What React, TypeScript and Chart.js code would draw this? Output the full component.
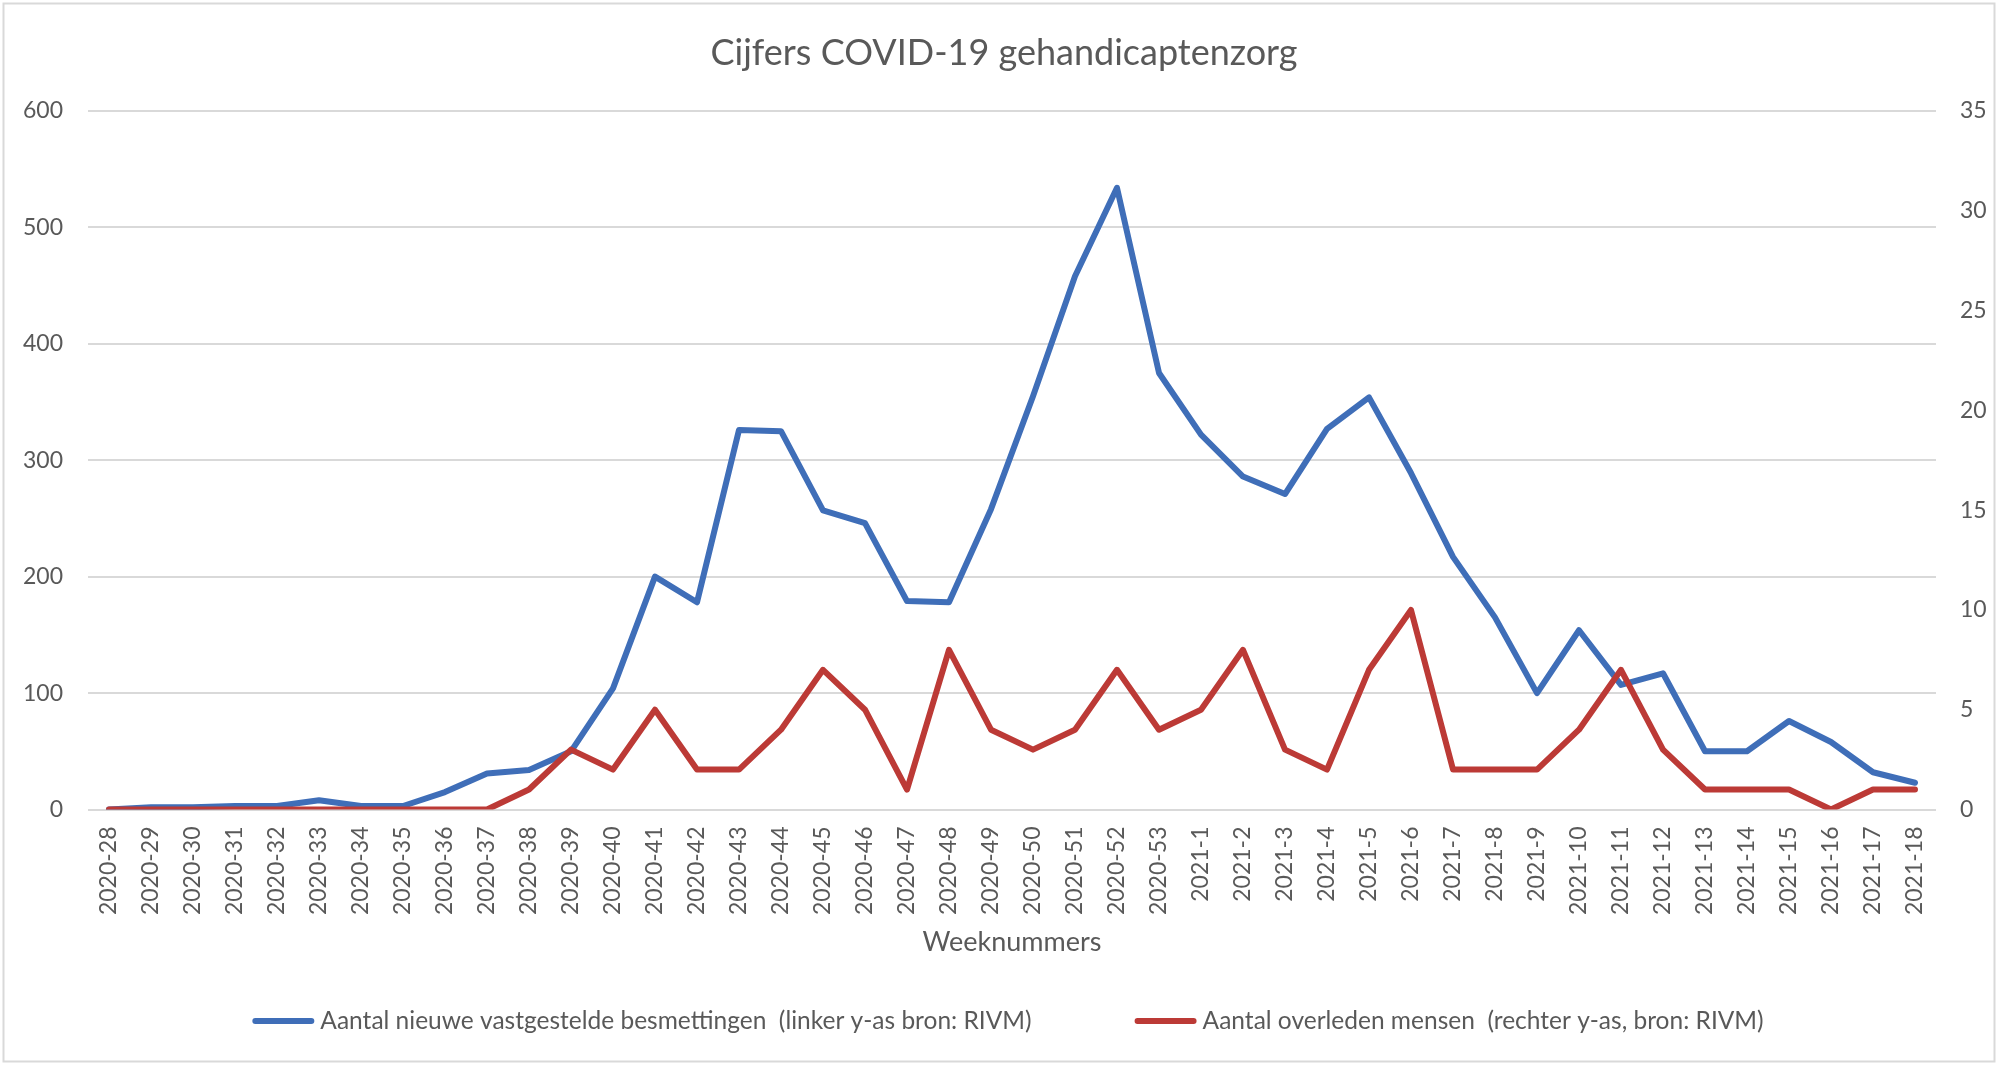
import React, { useEffect, useRef } from "react";
import { Chart, registerables } from "chart.js";

Chart.register(...registerables);

// ---- data ----
const weeks: string[] = [
  "2020-28", "2020-29", "2020-30", "2020-31", "2020-32", "2020-33", "2020-34", "2020-35",
  "2020-36", "2020-37", "2020-38", "2020-39", "2020-40", "2020-41", "2020-42", "2020-43",
  "2020-44", "2020-45", "2020-46", "2020-47", "2020-48", "2020-49", "2020-50", "2020-51",
  "2020-52", "2020-53", "2021-1", "2021-2", "2021-3", "2021-4", "2021-5", "2021-6",
  "2021-7", "2021-8", "2021-9", "2021-10", "2021-11", "2021-12", "2021-13", "2021-14",
  "2021-15", "2021-16", "2021-17", "2021-18",
];

const infections: number[] = [
  0, 2, 2, 3, 3, 8, 3, 3, 15, 31, 34, 50, 104, 200, 178, 326,
  325, 257, 246, 179, 178, 258, 355, 458, 534, 375, 322, 286, 271, 327,
  354, 289, 217, 165, 100, 154, 107, 117, 50, 50, 76, 58, 32, 23,
];

const deaths: number[] = [
  0, 0, 0, 0, 0, 0, 0, 0, 0, 0, 1, 3, 2, 5, 2, 2,
  4, 7, 5, 1, 8, 4, 3, 4, 7, 4, 5, 8, 3, 2,
  7, 10, 2, 2, 2, 4, 7, 3, 1, 1, 1, 0, 1, 1,
];

const leftAxis = { min: 0, max: 600, step: 100 };
const rightAxis = { min: 0, max: 35, step: 5 };

const chartTitle = "Cijfers COVID-19 gehandicaptenzorg";
const xAxisTitle = "Weeknummers";
const seriesLabels: string[] = [
  "Aantal nieuwe vastgestelde besmettingen  (linker y-as bron: RIVM)",
  "Aantal overleden mensen  (rechter y-as, bron: RIVM)",
];
const seriesColors: string[] = ["#3F6EB8", "#BC3A36"];

const FONT = "Lato, 'Noto Sans', sans-serif";
const TEXT = "#595959";
const GRID = "#D9D9D9";

const framePlugin = {
  id: "frame",
  beforeDraw(chart: any) {
    const { ctx, width, height } = chart;
    ctx.save();
    ctx.fillStyle = "#ffffff";
    ctx.fillRect(0, 0, width, height);
    ctx.restore();
  },
  afterDraw(chart: any) {
    const { ctx } = chart;
    ctx.save();
    ctx.strokeStyle = GRID;
    ctx.lineWidth = 2;
    ctx.strokeRect(3.5, 3.5, 1991, 1058);
    ctx.restore();
  },
};

const legendPlugin = {
  id: "customLegend",
  afterDraw(chart: any) {
    const { ctx } = chart;
    const ds = chart.data.datasets;
    const lineLen = 62;
    const gap = 6;
    const spacing = 103;
    const y = 1021;
    ctx.save();
    ctx.font = `24.5px ${FONT}`;
    ctx.textBaseline = "middle";
    ctx.textAlign = "left";
    const widths = ds.map((d: any) => ctx.measureText(d.label).width);
    let total = 0;
    widths.forEach((w: number, i: number) => {
      total += lineLen + gap + w + (i < widths.length - 1 ? spacing : 0);
    });
    let x = 1008 - total / 2;
    ds.forEach((d: any, i: number) => {
      ctx.strokeStyle = d.borderColor;
      ctx.lineWidth = 6;
      ctx.lineCap = "round";
      ctx.beginPath();
      ctx.moveTo(x + 3, y);
      ctx.lineTo(x + lineLen - 3, y);
      ctx.stroke();
      ctx.fillStyle = TEXT;
      ctx.fillText(d.label, x + lineLen + gap, y);
      x += lineLen + gap + widths[i] + spacing;
    });
    ctx.restore();
  },
};

export default function App() {
  const canvasRef = useRef<HTMLCanvasElement | null>(null);

  useEffect(() => {
    if (!canvasRef.current) return;
    const chart = new Chart(canvasRef.current, {
      type: "line",
      data: {
        labels: weeks,
        datasets: [
          {
            label: seriesLabels[0],
            data: infections,
            yAxisID: "yLeft",
            borderColor: seriesColors[0],
            backgroundColor: seriesColors[0],
            borderWidth: 6,
            pointRadius: 0,
            tension: 0,
            borderJoinStyle: "round",
            borderCapStyle: "round",
            order: 1,
          },
          {
            label: seriesLabels[1],
            data: deaths,
            yAxisID: "yRight",
            borderColor: seriesColors[1],
            backgroundColor: seriesColors[1],
            borderWidth: 6,
            pointRadius: 0,
            tension: 0,
            borderJoinStyle: "round",
            borderCapStyle: "round",
            order: 0,
          },
        ],
      },
      options: {
        responsive: false,
        devicePixelRatio: 1,
        animation: false,
        layout: { padding: { left: 0, right: 0, top: 0, bottom: 95.5 } },
        plugins: {
          legend: { display: false },
          tooltip: { enabled: false },
          title: {
            display: true,
            text: chartTitle,
            color: TEXT,
            font: { family: FONT, size: 36, weight: "normal", lineHeight: 1.2 },
            padding: { top: 32, bottom: 35.8 },
          },
        },
        scales: {
          x: {
            type: "category",
            offset: true,
            grid: { display: false, drawTicks: false },
            border: { display: false },
            ticks: {
              autoSkip: false,
              minRotation: 90,
              maxRotation: 90,
              padding: 17,
              color: TEXT,
              font: { family: FONT, size: 23 },
            },
            title: {
              display: true,
              text: xAxisTitle,
              color: TEXT,
              font: { family: FONT, size: 27, lineHeight: 1.2 },
              padding: { top: 0, bottom: 11 },
            },
            afterFit: (scale: any) => {
              scale.height = 160;
            },
          },
          yLeft: {
            type: "linear",
            position: "left",
            min: leftAxis.min,
            max: leftAxis.max,
            grid: { color: GRID, lineWidth: 2, drawTicks: false },
            border: { display: false },
            ticks: {
              stepSize: leftAxis.step,
              padding: 25,
              color: TEXT,
              font: { family: FONT, size: 23 },
            },
            afterFit: (scale: any) => {
              scale.width = 88;
            },
          },
          yRight: {
            type: "linear",
            position: "right",
            min: rightAxis.min,
            max: rightAxis.max,
            grid: { display: false, drawTicks: false },
            border: { display: false },
            ticks: {
              stepSize: rightAxis.step,
              padding: 24,
              color: TEXT,
              font: { family: FONT, size: 23 },
            },
            afterFit: (scale: any) => {
              scale.width = 72;
            },
          },
        },
      },
      plugins: [framePlugin, legendPlugin],
    });
    return () => chart.destroy();
  }, []);

  return (
    <div style={{ position: "fixed", left: 0, top: 0, width: 2008, height: 1065, background: "#fff" }}>
      <canvas
        ref={canvasRef}
        width={2008}
        height={1065}
        style={{ display: "block", width: 2008, height: 1065 }}
      />
    </div>
  );
}
